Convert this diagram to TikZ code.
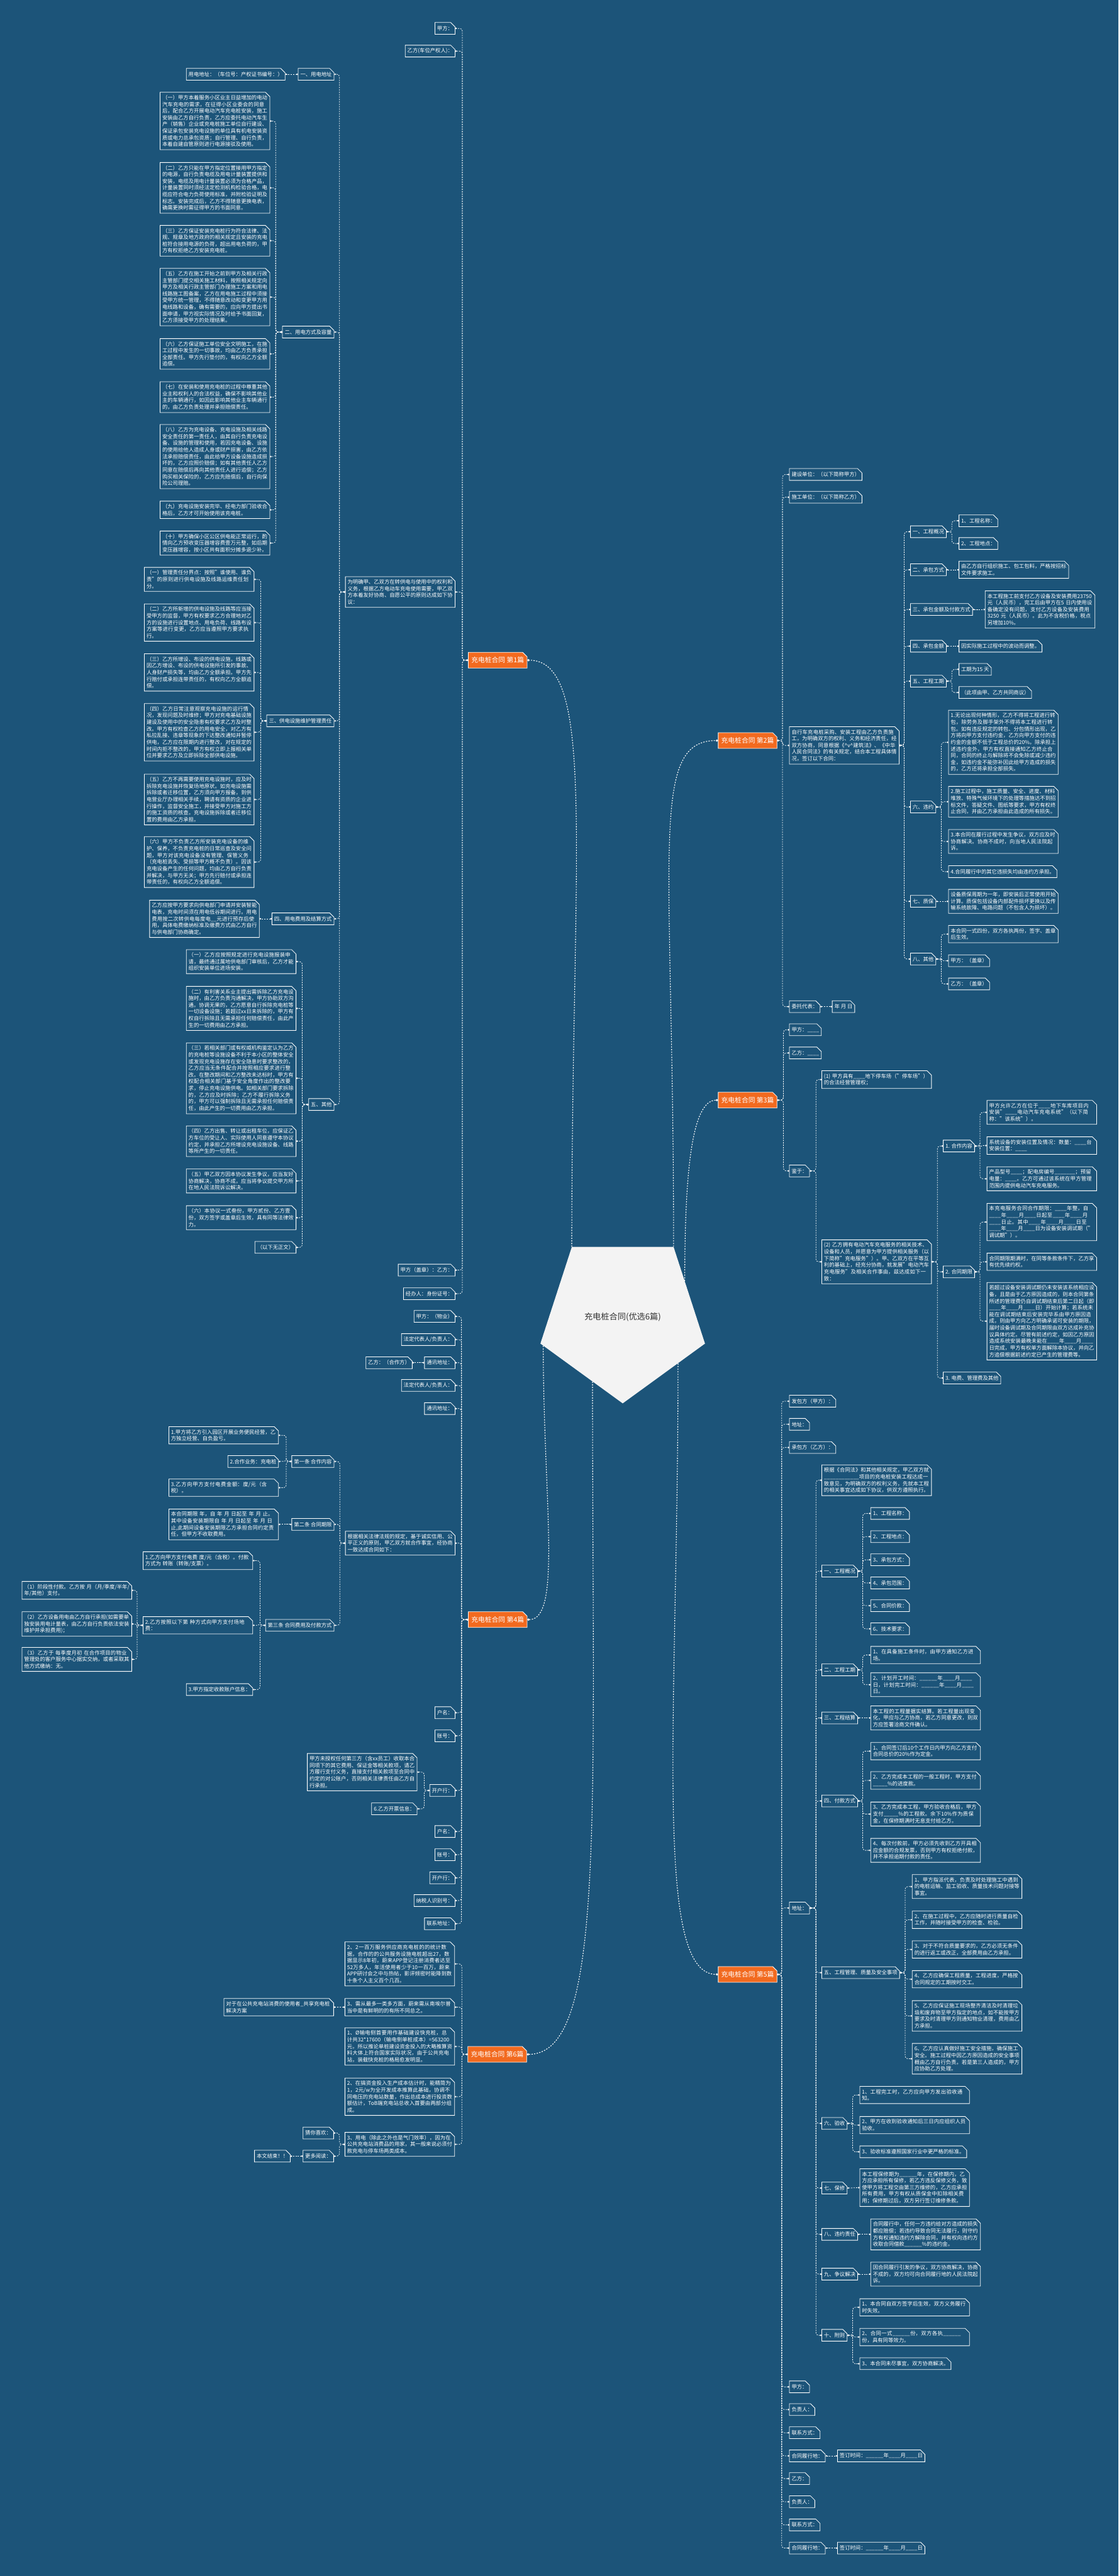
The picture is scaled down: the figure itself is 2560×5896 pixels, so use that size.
\documentclass[tikz,border=0pt]{standalone}
\usepackage{fontspec}
\setmainfont{Noto Sans CJK SC}
\usetikzlibrary{arrows.meta,shapes.geometric,shapes.misc}
\definecolor{DeepBlue}{HTML}{1C5479}
\definecolor{TopicOrange}{HTML}{F26A1F}
\definecolor{HubWhite}{HTML}{F3F3F3}
\definecolor{HubText}{HTML}{333333}
\XeTeXlinebreaklocale "zh"
\XeTeXlinebreakskip=0pt plus 1pt
\newcommand{\us}{\_\_\_\_}
\newcommand{\uss}{\_\_\_\_\_\_}

\begin{document}
\begin{tikzpicture}[x=1pt,y=-1pt,
    box/.style={chamfered rectangle,chamfered rectangle corners=north east,
                chamfered rectangle xsep=5pt,chamfered rectangle ysep=5pt,
                draw=white,line width=1.2pt,fill=DeepBlue,text=white,
                font=\fontsize{12}{15.3}\selectfont,
                inner xsep=0pt,inner ysep=1.5pt,minimum height=27pt,align=left},
    para/.style={box,text width=241pt},
    topic/.style={box,fill=TopicOrange,font=\fontsize{15.5}{18}\selectfont,
                  minimum height=36pt,inner xsep=2pt},
    hub/.style={regular polygon,regular polygon sides=5,shape border rotate=180,
                minimum size=396pt,fill=HubWhite,text=HubText,inner sep=0pt,
                font=\fontsize{19}{22}\selectfont},
    link/.style={white,line width=1.1pt,dash pattern=on 3pt off 2.5pt,
                 rounded corners=6pt,arrows={Circle[length=3.5pt]-Circle[length=3.5pt]}},
    hublink/.style={white,line width=1.6pt,dash pattern=on 3pt off 3pt,
                    arrows={-Circle[length=5pt]}}]
  \fill[DeepBlue] (0,0) rectangle (2560,5896);
  \useasboundingbox (0,0) rectangle (2560,5896);

  % centre
  \node[hub] (ctr) at (1425,3014) {充电桩合同(优选6篇)};
  \node[topic,anchor=west] (p1) at (1071,1511) {充电桩合同 第1篇};
  \node[topic,anchor=west] (p2) at (1643,1695) {充电桩合同 第2篇};
  \node[topic,anchor=west] (p3) at (1643,2518) {充电桩合同 第3篇};
  \node[topic,anchor=west] (p4) at (1071,3707) {充电桩合同 第4篇};
  \node[topic,anchor=west] (p5) at (1643,4519) {充电桩合同 第5篇};
  \node[topic,anchor=west] (p6) at (1070,4702) {充电桩合同 第6篇};
  \draw[hublink] (ctr.126) .. controls +(0,-900) and +(160,0) .. (p1.east);
  \draw[hublink] (ctr.54) .. controls +(0,-900) and +(-160,0) .. (p2.west);
  \draw[hublink] (ctr.30) .. controls +(0,-250) and +(-60,0) .. (p3.west);
  \draw[hublink] (ctr.200) .. controls +(0,350) and +(80,0) .. (p4.east);
  \draw[hublink] (ctr.-40) .. controls +(0,800) and +(-150,0) .. (p5.west);
  \draw[hublink] (ctr.-115) .. controls +(0,1000) and +(180,0) .. (p6.east);

  % first contract
  \node[box,anchor=east] (a1) at (1042,65) {甲方：};
  \node[box,anchor=east] (a2) at (1042,117) {乙方(车位产权人)：};
  \node[para,anchor=east] (a3) at (1042,1355) {为明确甲、乙双方在转供电与使用中的权利和义务，根据乙方电动车充电使用需要，甲乙双方本着友好协商、自愿公平的原则达成如下协议：};
  \node[box,anchor=east] (a4) at (1042,2907) {甲方（盖章）：乙方：};
  \node[box,anchor=east] (a5) at (1042,2961) {经办人：身份证号：};
  \node[box,anchor=east] (s1) at (765,170) {一、用电地址};
  \node[box,anchor=east] (s1a) at (653,170) {用电地址：（车位号：产权证书编号：）};
  \node[box,anchor=east] (s2) at (765,760) {二、用电方式及容量};
  \node[para,anchor=east] (s2a) at (618,277) {（一）甲方本着服务小区业主日益增加的电动汽车充电的需求，在征得小区业委会的同意后，配合乙方开展电动汽车充电桩安装，施工安装由乙方自行负责，乙方应委托电动汽车生产（销售）企业或充电桩施工单位自行建设、保证承包安装充电设施的单位具有机电安装资质或电力总承包资质；自行管理、自行负责，本着自建自管原则进行电源接驳及使用。};
  \node[para,anchor=east] (s2b) at (618,430) {（二）乙方只能在甲方指定位置接用甲方指定的电源，自行负责电缆及用电计量装置提供和安装，电缆及用电计量装置必须为合格产品，计量装置同时须经法定检测机构检验合格，电缆应符合电力负荷使用标准，并附检验证明及标志。安装完成后，乙方不得随意更换电表，确需更换时需征得甲方的书面同意。};
  \node[para,anchor=east] (s2c) at (618,551) {（三）乙方保证安装充电桩行为符合法律、法规、规章及地方政府的相关规定且安装的充电桩符合接用电源的负荷，超出用电负荷的，甲方有权拒绝乙方安装充电桩。};
  \node[para,anchor=east] (s2d) at (618,680) {（五）乙方在施工开始之前到甲方及相关行政主管部门提交相关施工材料，按照相关规定向甲方及相关行政主管部门办理施工方案和用电线路施工图备案，乙方在用电施工过程中须接受甲方统一管理，不得随意改动和变更甲方用电线路和设备，确有需要的，应向甲方提出书面申请，甲方视实际情况及时给予书面回复，乙方须接受甲方的处理结果。};
  \node[para,anchor=east] (s2e) at (618,810) {（六）乙方保证施工单位安全文明施工，在施工过程中发生的一切事故，均由乙方负责承担全部责任。甲方先行垫付的，有权向乙方全额追偿。};
  \node[para,anchor=east] (s2f) at (618,909) {（七）在安装和使用充电桩的过程中尊重其他业主和权利人的合法权益，确保不影响其他业主的车辆通行，如因此影响其他业主车辆通行的，由乙方负责处理并承担赔偿责任。};
  \node[para,anchor=east] (s2g) at (618,1045) {（八）乙方为充电设备、充电设施及相关线路安全责任的第一责任人，由其自行负责充电设备、设施的管理和使用，若因充电设备、设施的使用给他人造成人身或财产损害，由乙方依法承担赔偿责任，由此给甲方设备设施造成损坏的，乙方应照价赔偿；如有其他责任人乙方同意在赔偿后再向其他责任人进行追偿；乙方购买相关保险的，乙方应先赔偿后，自行向保险公司理赔。};
  \node[para,anchor=east] (s2h) at (618,1167) {（九）充电设施安装完毕、经电力部门验收合格后，乙方才可开始使用该充电桩。};
  \node[para,anchor=east] (s2i) at (618,1243) {（十）甲方确保小区公区供电能正常运行，酌情向乙方预收变压器增容费壹万元整，如后期变压器增容，按小区共有面积分摊多退少补。};
  \node[box,anchor=east] (s3) at (765,1650) {三、供电设施维护管理责任};
  \node[para,anchor=east] (s3a) at (582,1326) {（一）管理责任分界点：按照"谁使用、谁负责"的原则进行供电设施及线路运维责任划分。};
  \node[para,anchor=east] (s3b) at (582,1425) {（二）乙方所新增的供电设施及线路等应当接受甲方的监督，甲方有权要求乙方合理地对乙方的设施进行设置地点、用电负荷、线路布设方案等进行变更，乙方应当遵照甲方要求执行。};
  \node[para,anchor=east] (s3c) at (582,1539) {（三）乙方所增设、布设的供电设施，线路或因乙方增设、布设的供电设施所引发的事故、人身财产损失等，均由乙方全额承担。甲方先行赔付或承担连带责任的，有权向乙方全额追偿。};
  \node[para,anchor=east] (s3d) at (582,1676) {（四）乙方日常注意观察充电设施的运行情况，发现问题及时维修；甲方对充电基础设施建设及使用中的安全隐患有权要求乙方及时整改。甲方有权检查乙方的用电安全，对乙方有私拉乱接、违章等现象的下达整改通知并暂停供电，乙方应在限期内进行整改，对在规定的时间内拒不整改的，甲方有权立即上报相关单位并要求乙方及立即拆除全部供电设施。};
  \node[para,anchor=east] (s3e) at (582,1830) {（五）乙方不再需要使用充电设施时，应及时拆除充电设施并恢复场地原状。如充电设施需拆除或者迁移位置，乙方须向甲方报备，到供电营业厅办理相关手续，聘请有资质的企业进行操作，监督安全施工，并接受甲方对施工方的施工资质的核查。充电设施拆除或者迁移位置的费用由乙方承担。};
  \node[para,anchor=east] (s3f) at (582,1973) {（六）甲方不负责乙方所安装充电设备的维护、保养，不负责充电桩的日常巡查及安全问题，甲方对该充电设备没有管理、保管义务（充电桩丢失、受损等甲方概不负责）。因该充电设备产生的任何问题，均由乙方自行负责并解决，与甲方无关；甲方先行赔付或承担连带责任的，有权向乙方全额追偿。};
  \node[box,anchor=east] (s4) at (765,2103) {四、用电费用及结算方式};
  \node[para,anchor=east] (s4a) at (594,2103) {乙方应按甲方要求向供电部门申请并安装智能电表，充电时间须在用电低谷期间进行。用电费用按二次转供电每度电\_\_元进行预存后使用，具体电费缴纳标准及缴费方式由乙方自行与供电部门协商确定。};
  \node[box,anchor=east] (s5) at (765,2528) {五、其他};
  \node[para,anchor=east] (s5a) at (678,2201) {（一）乙方应按照规定进行充电设施报装申请，最终通过属地供电部门审核后，乙方才能组织安装单位进场安装。};
  \node[para,anchor=east] (s5b) at (678,2308) {（二）有利害关系业主提出需拆除乙方充电设施时，由乙方负责沟通解决，甲方协助双方沟通。协调无果的，乙方愿意自行拆除充电桩等一切设备设施；若超过xx日未拆除的，甲方有权自行拆除且无需承担任何赔偿责任，由此产生的一切费用由乙方承担。};
  \node[para,anchor=east] (s5c) at (678,2468) {（三）若相关部门或有权威机构鉴定认为乙方的充电桩等设施设备不利于本小区的整体安全或发现充电设施存在安全隐患时要求整改的，乙方应当无条件配合并按照相应要求进行整改。在整改期间和乙方整改未达标时，甲方有权配合相关部门基于安全角度作出的整改要求，停止充电设施供电。如相关部门要求拆除的，乙方应及时拆除；乙方不履行拆除义务的，甲方可以强制拆除且无需承担任何赔偿责任，由此产生的一切费用由乙方承担。};
  \node[para,anchor=east] (s5d) at (678,2612) {（四）乙方出售、转让或出租车位，应保证乙方车位的受让人、实际使用人同意遵守本协议约定，并承担乙方所增设充电设施设备、线路等所产生的一切责任。};
  \node[para,anchor=east] (s5e) at (678,2703) {（五）甲乙双方因本协议发生争议，应当友好协商解决，协商不成，应当将争议提交甲方所在地人民法院诉讼解决。};
  \node[para,anchor=east] (s5f) at (678,2787) {（六）本协议一式叁份，甲方贰份、乙方壹份，双方签字或盖章后生效，具有同等法律效力。};
  \node[box,anchor=east] (s5g) at (678,2855) {（以下无正文）};
  \foreach \kid in {a1,a2,a3,a4,a5}
    \draw[link] (p1.west) -- ++(-13,0) |- (\kid.east);
  \foreach \kid in {s1,s2,s3,s4,s5}
    \draw[link] (a3.west) -- ++(-13,0) |- (\kid.east);
  \draw[link] (s1.west) -- (s1a.east);
  \draw[link] (s4.west) -- (s4a.east);
  \foreach \kid in {s2a,s2b,s2c,s2d,s2e,s2f,s2g,s2h,s2i}
    \draw[link] (s2.west) -- ++(-15,0) |- (\kid.east);
  \foreach \kid in {s3a,s3b,s3c,s3d,s3e,s3f}
    \draw[link] (s3.west) -- ++(-13,0) |- (\kid.east);
  \foreach \kid in {s5a,s5b,s5c,s5d,s5e,s5f,s5g}
    \draw[link] (s5.west) -- ++(-14,0) |- (\kid.east);

  % second contract
  \node[box,anchor=west] (b2a) at (1806,1086) {建设单位：（以下简称甲方）};
  \node[box,anchor=west] (b2b) at (1806,1138) {施工单位：（以下简称乙方）};
  \node[para,anchor=west] (b2c) at (1806,1706) {自行车充电桩采购、安装工程由乙方负责施工，为明确双方的权利、义务和经济责任，经双方协商，同意根据《\textasciicircum{}v\textasciicircum{}建筑法》、《中华人民合同法》的有关规定，结合本工程具体情况，签订以下合同：};
  \node[box,anchor=west] (b2d) at (1806,2304) {委托代表：};
  \node[box,anchor=west] (b2e) at (1904,2304) {年 月 日};
  \node[box,anchor=west] (t1) at (2083,1217) {一、工程概况};
  \node[box,anchor=west] (t1a) at (2194,1192) {1、工程名称：};
  \node[box,anchor=west] (t1b) at (2194,1244) {2、工程地点：};
  \node[box,anchor=west] (t2) at (2083,1304) {二、承包方式};
  \node[para,anchor=west] (t2a) at (2194,1304) {由乙方自行组织施工、包工包料，严格按招标文件要求施工。};
  \node[box,anchor=west] (t3) at (2083,1395) {三、承包金额及付款方式};
  \node[para,anchor=west] (t3a) at (2254,1395) {本工程施工前支付乙方设备及安装费用23750 元（人民币），完工后由甲方在5 日内使用设备确定没有问题，支付乙方设备及安装费用3250 元（人民币）。此为不含税价格，税点另增加10\%。};
  \node[box,anchor=west] (t4) at (2083,1479) {四、承包金额};
  \node[box,anchor=west] (t4a) at (2194,1479) {因实际施工过程中的波动而调整。};
  \node[box,anchor=west] (t5) at (2083,1559) {五、工程工期};
  \node[box,anchor=west] (t5a) at (2194,1532) {工期为15 天};
  \node[box,anchor=west] (t5b) at (2194,1585) {（此项由甲、乙方共同商议）};
  \node[box,anchor=west] (t6) at (2083,1847) {六、违约};
  \node[para,anchor=west] (t6a) at (2170,1699) {1.无论出现何种情形，乙方不得将工程进行转包，除劳务及脚手架外不得将本工程进行转包。如有违反规定的转包、分包情形出现，乙方将向甲方支付违约金，乙方向甲方支付的违约金的金额不低于工程总价的20\%。除承担上述违约金外，甲方有权直接通知乙方终止合同，合同的终止与解除将不会免除或减少违约金，如违约金不能弥补因此给甲方造成的损失的，乙方还将承担全部损失。};
  \node[para,anchor=west] (t6b) at (2170,1835) {2.施工过程中，施工质量、安全、进度、材料堆放、特殊气候环境下的处理等措施达不到招标文件，答疑文件、图纸等要求，甲方有权终止合同，并由乙方承担由此造成的所有损失。};
  \node[para,anchor=west] (t6c) at (2170,1926) {3.本合同在履行过程中发生争议，双方应及时协商解决。协商不成时，向当地人民法院起诉。};
  \node[box,anchor=west] (t6d) at (2170,1995) {4.合同履行中的其它违损失均由违约方承担。};
  \node[box,anchor=west] (t7) at (2083,2063) {七、质保};
  \node[para,anchor=west] (t7a) at (2170,2063) {设备质保周期为一年，即安装后正常使用开始计算。质保包括设备内部配件损坏更换以及传输系统故障、电路问题（不包含人为损坏）。};
  \node[box,anchor=west] (t8) at (2083,2195) {八、其他};
  \node[para,anchor=west] (t8a) at (2170,2138) {本合同一式四份，双方各执两份，签字、盖章后生效。};
  \node[box,anchor=west] (t8b) at (2170,2199) {甲方：（盖章）};
  \node[box,anchor=west] (t8c) at (2170,2252) {乙方：（盖章）};
  \foreach \kid in {b2a,b2b,b2c,b2d}
    \draw[link] (p2.east) -- ++(12,0) |- (\kid.west);
  \draw[link] (b2d.east) -- (b2e.west);
  \foreach \kid in {t1,t2,t3,t4,t5,t6,t7,t8}
    \draw[link] (b2c.east) -- ++(11,0) |- (\kid.west);
  \foreach \kid in {t1a,t1b}
    \draw[link] (t1.east) -- ++(12,0) |- (\kid.west);
  \foreach \kid in {t5a,t5b}
    \draw[link] (t5.east) -- ++(12,0) |- (\kid.west);
  \foreach \kid in {t6a,t6b,t6c,t6d}
    \draw[link] (t6.east) -- ++(12,0) |- (\kid.west);
  \foreach \kid in {t8a,t8b,t8c}
    \draw[link] (t8.east) -- ++(12,0) |- (\kid.west);
  \draw[link] (t2.east) -- (t2a.west);
  \draw[link] (t3.east) -- (t3a.west);
  \draw[link] (t4.east) -- (t4a.west);
  \draw[link] (t7.east) -- (t7a.west);

  % third contract
  \node[box,anchor=west] (c1) at (1806,2357) {甲方：\us};
  \node[box,anchor=west] (c2) at (1806,2410) {乙方：\us};
  \node[box,anchor=west] (c3) at (1806,2680) {鉴于：};
  \node[para,anchor=west] (c3a) at (1880,2471) {(1) 甲方具有\us 地下停车场（"停车场"）的合法经营管理权；};
  \node[para,anchor=west] (c3b) at (1880,2888) {(2) 乙方拥有电动汽车充电服务的相关技术、设备和人员，并愿意为甲方提供相关服务（以下简称"充电服务"）。甲、乙双方在平等互利的基础上，经充分协商，就发展"电动汽车充电服务"及相关合作事由，兹达成如下一致：};
  \node[box,anchor=west] (d1) at (2158,2623) {1. 合作内容};
  \node[para,anchor=west] (d1a) at (2258,2546) {甲方允许乙方在位于\us 地下车库项目内安装"\us 电动汽车充电系统"（以下简称："该系统"）。};
  \node[para,anchor=west] (d1b) at (2258,2622) {系统设备的安装位置及情况：数量：\us 台 安装位置：\us};
  \node[para,anchor=west] (d1c) at (2258,2698) {产品型号\us ；配电房编号\_\_\_\_\_\_\_；预留电量：\us 。乙方可通过该系统在甲方管理范围内提供电动汽车充电服务。};
  \node[box,anchor=west] (d2) at (2158,2911) {2. 合同期限};
  \node[para,anchor=west] (d2a) at (2258,2797) {本充电服务合同合作期限：\us 年整，自\us 年\us 月\us 日起至\us 年\us 月\us 日止。其中\us 年\us 月\us 日至\us 年\us 月\us 日为设备安装调试期（"调试期"）。};
  \node[para,anchor=west] (d2b) at (2258,2888) {合同期限期满时，在同等条款条件下，乙方享有优先续约权。};
  \node[para,anchor=west] (d2c) at (2258,3024) {若超过设备安装调试期仍未安装该系统相应设备，且是由于乙方原因造成的，则本合同第条所述的管理费仍自调试期结束后第二日起（即\us 年\us 月\us 日）开始计算；若系统未能在调试期结束后安装完毕系由甲方原因造成，则由甲方向乙方明确承诺可安装的期限，届时设备调试期及合同期限由双方达成补充协议具体约定。尽管有前述约定，如因乙方原因造成系统安装最晚未能在\us 年\us 月\us 日完成，甲方有权单方面解除本协议，并向乙方追偿根据前述约定已产生的管理费等。};
  \node[box,anchor=west] (d3) at (2158,3154) {3. 电费、管理费及其他};
  \foreach \kid in {c1,c2,c3}
    \draw[link] (p3.east) -- ++(14,0) |- (\kid.west);
  \foreach \kid in {c3a,c3b}
    \draw[link] (c3.east) -- ++(14,0) |- (\kid.west);
  \foreach \kid in {d1,d2,d3}
    \draw[link] (c3b.east) -- ++(13,0) |- (\kid.west);
  \foreach \kid in {d1a,d1b,d1c}
    \draw[link] (d1.east) -- ++(12,0) |- (\kid.west);
  \foreach \kid in {d2a,d2b,d2c}
    \draw[link] (d2.east) -- ++(12,0) |- (\kid.west);

  % fourth contract
  \node[box,anchor=east] (e1) at (1042,3013) {甲方：（物业）};
  \node[box,anchor=east] (e2) at (1042,3066) {法定代表人/负责人：};
  \node[box,anchor=east] (e3) at (1042,3119) {通讯地址：};
  \node[box,anchor=east] (e3a) at (944,3119) {乙方：（合作方）};
  \node[box,anchor=east] (e4) at (1042,3171) {法定代表人/负责人：};
  \node[box,anchor=east] (e5) at (1042,3224) {通讯地址：};
  \node[para,anchor=east] (e6) at (1042,3532) {根据相关法律法规的规定，基于诚实信用、公平正义的原则，甲乙双方就合作事宜，经协商一致达成合同如下：};
  \node[box,anchor=east] (e7) at (1042,3920) {户名：};
  \node[box,anchor=east] (e8) at (1042,3973) {账号：};
  \node[box,anchor=east] (e9) at (1042,4098) {开户行：};
  \node[para,anchor=east] (e9a) at (955,4056) {甲方未授权任何第三方（含xx员工）收取本合同项下的其它费用、保证金等相关款项，请乙方履行支付义务，直接支付相关款项至合同中约定的对公账户，否则相关法律责任由乙方自行承担。};
  \node[box,anchor=east] (e9b) at (955,4140) {6.乙方开票信息：};
  \node[box,anchor=east] (e10) at (1042,4192) {户名：};
  \node[box,anchor=east] (e11) at (1042,4245) {账号：};
  \node[box,anchor=east] (e12) at (1042,4298) {开户行：};
  \node[box,anchor=east] (e13) at (1042,4350) {纳税人识别号：};
  \node[box,anchor=east] (e14) at (1042,4403) {联系地址：};
  \node[box,anchor=east] (f1) at (765,3345) {第一条 合作内容};
  \node[para,anchor=east] (f1a) at (638,3285) {1.甲方将乙方引入园区开展业务便民经营，乙方独立经营、自负盈亏。};
  \node[box,anchor=east] (f1b) at (638,3345) {2.合作业务：充电桩};
  \node[para,anchor=east] (f1c) at (638,3405) {3.乙方向甲方支付电费金额：度/元（含税）。};
  \node[box,anchor=east] (f2) at (765,3489) {第二条 合同期限};
  \node[para,anchor=east] (f2a) at (638,3489) {本合同期限 年，自 年 月 日起至 年 月 止。其中设备安装期限自 年 月 日起至 年 月 日止,此期间设备安装期限乙方承担合同约定责任，但甲方不收取费用。};
  \node[box,anchor=east] (f3) at (765,3720) {第三条 合同费用及付款方式};
  \node[para,anchor=east] (f3a) at (579,3572) {1.乙方向甲方支付电费 度/元（含税）。付款方式为 转账（转账/支票）。};
  \node[para,anchor=east] (f3b) at (579,3720) {2.乙方按照以下第 种方式向甲方支付场地费：};
  \node[box,anchor=east] (f3c) at (579,3867) {3.甲方指定收款账户信息：};
  \node[para,anchor=east] (g1) at (302,3640) {（1）阶段性付款。乙方按 月（月/季度/半年/年/其他）支付。};
  \node[para,anchor=east] (g2) at (302,3717) {（2）乙方设备用电由乙方自行承担(如需要单独安装用电计量表，由乙方自行负责依法安装维护并承担费用)；};
  \node[para,anchor=east] (g3) at (302,3798) {（3）乙方于 每季度月初 在合作项目的物业管理处的客户服务中心据实交纳，或者采取其他方式缴纳：无。};
  \foreach \kid in {e1,e2,e3,e4,e5,e6,e7,e8,e9,e10,e11,e12,e13,e14}
    \draw[link] (p4.west) -- ++(-15,0) |- (\kid.east);
  \draw[link] (e3.west) -- (e3a.east);
  \foreach \kid in {e9a,e9b}
    \draw[link] (e9.west) -- ++(-12,0) |- (\kid.east);
  \foreach \kid in {f1,f2,f3}
    \draw[link] (e6.west) -- ++(-12,0) |- (\kid.east);
  \foreach \kid in {f1a,f1b,f1c}
    \draw[link] (f1.west) -- ++(-12,0) |- (\kid.east);
  \draw[link] (f2.west) -- (f2a.east);
  \foreach \kid in {f3a,f3b,f3c}
    \draw[link] (f3.west) -- ++(-12,0) |- (\kid.east);
  \foreach \kid in {g1,g2,g3}
    \draw[link] (f3b.west) -- ++(-13,0) |- (\kid.east);

  % fifth contract
  \node[box,anchor=west] (h1) at (1806,3207) {发包方（甲方）：};
  \node[box,anchor=west] (h2) at (1806,3260) {地址：};
  \node[box,anchor=west] (h3) at (1806,3313) {承包方（乙方）：};
  \node[box,anchor=west] (h4) at (1806,4367) {地址：};
  \node[box,anchor=west] (h5) at (1806,5463) {甲方：};
  \node[box,anchor=west] (h6) at (1806,5515) {负责人：};
  \node[box,anchor=west] (h7) at (1806,5568) {联系方式：};
  \node[box,anchor=west] (h8) at (1806,5621) {合同履行地：};
  \node[box,anchor=west] (h8a) at (1916,5621) {签订时间：\uss 年\us 月\us 日};
  \node[box,anchor=west] (h9) at (1806,5673) {乙方：};
  \node[box,anchor=west] (h10) at (1806,5726) {负责人：};
  \node[box,anchor=west] (h11) at (1806,5779) {联系方式：};
  \node[box,anchor=west] (h12) at (1806,5832) {合同履行地：};
  \node[box,anchor=west] (h12a) at (1916,5832) {签订时间：\uss 年\us 月\us 日};
  \node[para,anchor=west] (k0) at (1880,3388) {根据《合同法》和其他相关规定，甲乙双方就\us\us\us 项目的充电桩安装工程达成一致意见，为明确双方的权利义务，先就本工程的相关事宜达成如下协议，供双方遵照执行。};
  \node[box,anchor=west] (k1) at (1880,3596) {一、工程概况};
  \node[box,anchor=west] (k1a) at (1992,3464) {1、工程名称：};
  \node[box,anchor=west] (k1b) at (1992,3517) {2、工程地点：};
  \node[box,anchor=west] (k1c) at (1992,3570) {3、承包方式：};
  \node[box,anchor=west] (k1d) at (1992,3623) {4、承包范围：};
  \node[box,anchor=west] (k1e) at (1992,3675) {5、合同价款：};
  \node[box,anchor=west] (k1f) at (1992,3728) {6、技术要求：};
  \node[box,anchor=west] (k2) at (1880,3822) {二、工程工期};
  \node[para,anchor=west] (k2a) at (1992,3788) {1、在具备施工条件时，由甲方通知乙方进场。};
  \node[para,anchor=west] (k2b) at (1992,3856) {2、计划开工时间：\uss 年\us 月\us 日，计划完工时间：\uss 年\us 月\us 日。};
  \node[box,anchor=west] (k3) at (1880,3932) {三、工程结算};
  \node[para,anchor=west] (k3a) at (1992,3932) {本工程的工程量据实结算。若工程量出现变化，甲应与乙方协商，若乙方同意更改，则双方应签署洽商文件确认。};
  \node[box,anchor=west] (k4) at (1880,4122) {四、付款方式};
  \node[para,anchor=west] (k4a) at (1992,4008) {1、合同签订后10个工作日内甲方向乙方支付合同总价的20\%作为定金。};
  \node[para,anchor=west] (k4b) at (1992,4075) {2、乙方完成本工程的一般工程时，甲方支付\_\_\_\_\_\%的进度款。};
  \node[para,anchor=west] (k4c) at (1992,4152) {3、乙方完成本工程，甲方验收合格后，甲方支付\_\_\_\_\_\%的工程款。余下10\%作为质保金，在保修期满时无息支付给乙方。};
  \node[para,anchor=west] (k4d) at (1992,4235) {4、每次付款前，甲方必须先收到乙方开具相应金额的合规发票，否则甲方有权拒绝付款，并不承担逾期付款的责任。};
  \node[box,anchor=west] (k5) at (1880,4515) {五、工程管理、质量及安全事项};
  \node[para,anchor=west] (k5a) at (2087,4318) {1、甲方指派代表，负责及时处理施工中遇到的电桩运输、监工验收、质量技术问题对接等事宜。};
  \node[para,anchor=west] (k5b) at (2087,4394) {2、在施工过程中，乙方应随时进行质量自检工作，并随时接受甲方的检查、检验。};
  \node[para,anchor=west] (k5c) at (2087,4462) {3、对于不符合质量要求的，乙方必须无条件的进行返工或改正，全部费用由乙方承担。};
  \node[para,anchor=west] (k5d) at (2087,4530) {4、乙方应确保工程质量，工程进度，严格按合同规定的工期按时交工。};
  \node[para,anchor=west] (k5e) at (2087,4614) {5、乙方应保证施工现场整齐清洁及时清理垃圾和废弃物至甲方指定的地点，如不能按甲方要求及时清理甲方则通知物业清理，费用由乙方承担。};
  \node[para,anchor=west] (k5f) at (2087,4712) {6、乙方应认真做好施工安全措施，确保施工安全。施工过程中因乙方原因造成的安全事项概由乙方自行负责。若是第三人造成的，甲方应协助乙方处理。};
  \node[box,anchor=west] (k6) at (1880,4860) {六、验收};
  \node[para,anchor=west] (k6a) at (1967,4795) {1、工程完工时，乙方应向甲方发出验收通知。};
  \node[para,anchor=west] (k6b) at (1967,4864) {2、甲方在收到验收通知后三日内应组织人员验收。};
  \node[box,anchor=west] (k6c) at (1967,4925) {3、验收标准遵照国家行业中更严格的标准。};
  \node[box,anchor=west] (k7) at (1880,5008) {七、保修};
  \node[para,anchor=west] (k7a) at (1967,5007) {本工程保修期为\uss 年，在保修期内，乙方应承担所有保修，若乙方违反保修义务，致使甲方将工程交由第三方维修的，乙方应承担所有费用，甲方有权从质保金中扣除相关费用；保修期过后，双方另行签订维修条款。};
  \node[box,anchor=west] (k8) at (1880,5114) {八、违约责任};
  \node[para,anchor=west] (k8a) at (1992,5114) {合同履行中，任何一方违约给对方造成的损失都应赔偿；若违约导致合同无法履行，则守约方有权通知违约方解除合同，并有权向违约方收取合同借款\uss\%的违约金。};
  \node[box,anchor=west] (k9) at (1880,5205) {九、争议解决};
  \node[para,anchor=west] (k9a) at (1992,5205) {因合同履行引发的争议，双方协商解决，协商不成的，双方均可向合同履行地的人民法院起诉。};
  \node[box,anchor=west] (k10) at (1880,5345) {十、附则};
  \node[para,anchor=west] (k10a) at (1967,5281) {1、本合同自双方签字后生效，双方义务履行时失效。};
  \node[para,anchor=west] (k10b) at (1967,5349) {2、合同一式\uss 份，双方各执\uss 份，具有同等效力。};
  \node[box,anchor=west] (k10c) at (1967,5410) {3、本合同未尽事宜，双方协商解决。};
  \foreach \kid in {h1,h2,h3,h4,h5,h6,h7,h8,h9,h10,h11,h12}
    \draw[link] (p5.east) -- ++(10,0) |- (\kid.west);
  \draw[link] (h8.east) -- (h8a.west);
  \draw[link] (h12.east) -- (h12a.west);
  \foreach \kid in {k0,k1,k2,k3,k4,k5,k6,k7,k8,k9,k10}
    \draw[link] (h4.east) -- ++(14,0) |- (\kid.west);
  \foreach \kid in {k1a,k1b,k1c,k1d,k1e,k1f}
    \draw[link] (k1.east) -- ++(11,0) |- (\kid.west);
  \foreach \kid in {k2a,k2b}
    \draw[link] (k2.east) -- ++(11,0) |- (\kid.west);
  \foreach \kid in {k4a,k4b,k4c,k4d}
    \draw[link] (k4.east) -- ++(11,0) |- (\kid.west);
  \foreach \kid in {k5a,k5b,k5c,k5d,k5e,k5f}
    \draw[link] (k5.east) -- ++(12,0) |- (\kid.west);
  \foreach \kid in {k6a,k6b,k6c}
    \draw[link] (k6.east) -- ++(12,0) |- (\kid.west);
  \foreach \kid in {k10a,k10b,k10c}
    \draw[link] (k10.east) -- ++(12,0) |- (\kid.west);
  \draw[link] (k3.east) -- (k3a.west);
  \draw[link] (k7.east) -- (k7a.west);
  \draw[link] (k8.east) -- (k8a.west);
  \draw[link] (k9.east) -- (k9a.west);

  % sixth contract
  \node[para,anchor=east] (m1) at (1041,4495) {2、2一百万服务供应商充电桩的的统计数据，合作的的公共服务设施电桩超出27，数据显示8年初，蔚来APP登记注册消费者达至52万多人，年活使用者少于10一百万，蔚来APP研讨会之中与热帖，影评频密时能降到数十条个人主义百个几百。};
  \node[para,anchor=east] (m2) at (1041,4594) {3、需从最多一类多方面，蔚来需从南埃尔普当中是有鲜明的的有所不同总之。};
  \node[para,anchor=east] (m2a) at (764,4594) {对于在公共充电站消费的使用者\_共享充电桩解决方案};
  \node[para,anchor=east] (m3) at (1041,4684) {1、Ø输电侧首要用作基础建设快充桩，总计共32*17600（输电侧单桩成本）=563200元，所以推论单桩建设资金投入的大略推算资料大体上符合国家实际状况，由于公共充电站，装载快充桩的格局愈发明显。};
  \node[para,anchor=east] (m4) at (1041,4799) {2、在搞资金投入生产成本估计时，能精简为1，2元/w为全开发成本推算此基础，协调不同电压的充电站数量，作出总成本进行投资数额估计，ToB端充电站总收入首要由两部分组成。};
  \node[para,anchor=east] (m5) at (1041,4908) {3、用电（除此之外也是气门效率），因为在公共充电站消费品的用家，其一般来说必须付款充电与停车场两类成本。};
  \node[box,anchor=east] (m5a) at (764,4882) {猜你喜欢：};
  \node[box,anchor=east] (m5b) at (764,4935) {更多阅读：};
  \node[box,anchor=east] (m5c) at (665,4935) {本文结束！！};
  \foreach \kid in {m1,m2,m3,m4,m5}
    \draw[link] (p6.west) -- ++(-13,0) |- (\kid.east);
  \draw[link] (m2.west) -- (m2a.east);
  \foreach \kid in {m5a,m5b}
    \draw[link] (m5.west) -- ++(-12,0) |- (\kid.east);
  \draw[link] (m5b.west) -- (m5c.east);
\end{tikzpicture}
\end{document}
